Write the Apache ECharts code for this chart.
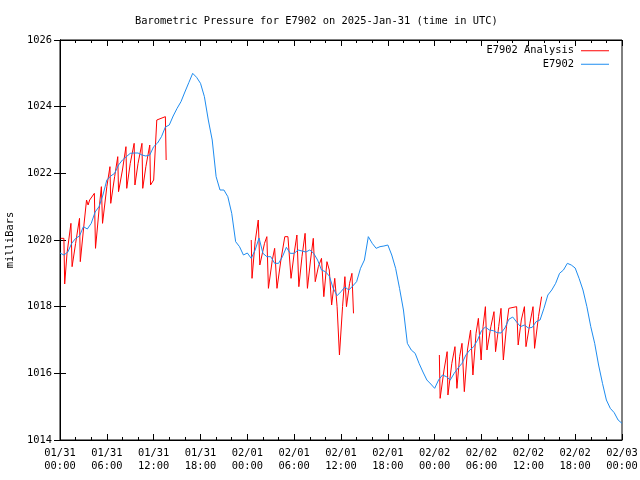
<!DOCTYPE html>
<html>
<head>
<meta charset="utf-8">
<script src="https://cdn.jsdelivr.net/npm/echarts@6/dist/echarts.min.js"></script>
<style>html,body{margin:0;padding:0;background:#fff}#c{width:640px;height:480px}</style>
</head>
<body>
<div id="c"></div>
<script>
const xTickLabels = ["01/31\n00:00","01/31\n06:00","01/31\n12:00","01/31\n18:00","02/01\n00:00","02/01\n06:00","02/01\n12:00","02/01\n18:00","02/02\n00:00","02/02\n06:00","02/02\n12:00","02/02\n18:00","02/03\n00:00"];
const seriesNames = ["E7902 Analysis", "E7902"];
// E7902 observations, every 30 minutes from 01/31 00:00 (hours offset = index*0.5)
const blueValues = [
1019.61,1019.55,1019.64,1019.9,1020.05,1020.12,1020.4,1020.33,1020.5,1020.84,
1021.0,1021.35,1021.8,1021.92,1022.0,1022.25,1022.4,1022.5,1022.6,1022.61,
1022.61,1022.55,1022.52,1022.55,1022.8,1022.91,1023.1,1023.39,1023.45,1023.72,
1023.95,1024.15,1024.44,1024.72,1025.0,1024.88,1024.7,1024.3,1023.6,1023.0,
1021.9,1021.5,1021.5,1021.3,1020.8,1019.95,1019.8,1019.55,1019.61,1019.45,
1019.7,1020.06,1019.6,1019.5,1019.5,1019.3,1019.3,1019.5,1019.78,1019.6,
1019.6,1019.7,1019.67,1019.64,1019.7,1019.6,1019.4,1019.1,1019.05,1018.92,
1018.55,1018.33,1018.45,1018.59,1018.5,1018.62,1018.75,1019.15,1019.4,1020.1,
1019.9,1019.75,1019.8,1019.82,1019.85,1019.55,1019.15,1018.55,1017.9,1016.9,
1016.7,1016.6,1016.3,1016.04,1015.8,1015.68,1015.55,1015.8,1015.95,1015.9,
1015.8,1016.0,1016.16,1016.3,1016.55,1016.7,1016.8,1017.0,1017.28,1017.39,
1017.3,1017.28,1017.22,1017.21,1017.36,1017.62,1017.69,1017.54,1017.4,1017.45,
1017.36,1017.38,1017.55,1017.6,1017.95,1018.35,1018.5,1018.7,1019.0,1019.1,
1019.3,1019.25,1019.16,1018.85,1018.5,1018.0,1017.4,1016.9,1016.25,1015.7,
1015.2,1014.95,1014.82,1014.6,1014.5
];
// Analysis segments: [hours since 01/31 00:00, mb]
const redSeg1 = [[0.1,1020.05],[0.5,1020.05],[0.6,1018.68],[0.9,1019.6],[1.4,1020.5],[1.55,1019.2],[2.0,1019.9],[2.5,1020.65],[2.6,1019.35],[3.0,1020.3],[3.4,1021.2],[3.6,1021.05],[3.8,1021.2],[4.4,1021.4],[4.55,1019.75],[5.0,1020.9],[5.3,1021.6],[5.45,1020.5],[6.0,1021.6],[6.4,1022.2],[6.5,1021.1],[7.0,1021.9],[7.4,1022.5],[7.5,1021.45],[8.0,1022.1],[8.45,1022.8],[8.55,1021.55],[9.0,1022.3],[9.5,1022.9],[9.6,1021.65],[10.0,1022.3],[10.5,1022.9],[10.6,1021.55],[11.0,1022.2],[11.5,1022.85],[11.6,1021.65],[12.0,1021.8],[12.4,1023.6],[12.6,1023.65],[13.5,1023.7],[13.6,1022.4]];
const redSeg2 = [[24.5,1020.0],[24.6,1018.85],[25.0,1019.95],[25.4,1020.6],[25.6,1019.25],[26.2,1019.9],[26.5,1020.1],[26.7,1018.55],[27.2,1019.4],[27.5,1019.75],[27.8,1018.55],[28.3,1019.4],[28.8,1020.1],[29.2,1020.1],[29.6,1018.85],[30.0,1019.6],[30.35,1020.15],[30.6,1018.6],[31.0,1019.5],[31.4,1020.2],[31.7,1018.55],[32.1,1019.4],[32.45,1020.05],[32.7,1018.75],[33.1,1019.2],[33.5,1019.45],[33.8,1018.3],[34.2,1019.35],[34.5,1019.1],[34.8,1018.05],[35.2,1018.85],[35.5,1018.0],[35.8,1016.55],[36.2,1018.0],[36.5,1018.9],[36.7,1018.0],[37.1,1018.7],[37.4,1019.0],[37.6,1017.8]];
const redSeg3 = [[48.6,1016.55],[48.7,1015.25],[49.2,1016.1],[49.6,1016.65],[49.7,1015.35],[50.2,1016.3],[50.6,1016.8],[50.85,1015.55],[51.2,1016.5],[51.5,1016.9],[51.8,1015.45],[52.2,1016.7],[52.6,1017.3],[52.9,1015.95],[53.3,1017.2],[53.6,1017.65],[53.95,1016.4],[54.2,1017.4],[54.5,1018.0],[54.7,1016.7],[55.2,1017.4],[55.6,1017.85],[55.8,1016.65],[56.2,1017.4],[56.5,1017.95],[56.8,1016.4],[57.2,1017.4],[57.5,1017.95],[58.5,1018.0],[58.7,1016.85],[59.1,1017.6],[59.5,1018.0],[59.7,1016.8],[60.2,1017.5],[60.6,1018.0],[60.8,1016.75],[61.3,1017.7],[61.7,1018.3]];

const FONT = 'DejaVu Sans Mono';
const FS = 10.4;
const RED = '#ff0000', BLUE = '#1e8cf0';
const redData = [].concat(redSeg1, [[18, '-']], redSeg2, [[42, '-']], redSeg3);
const blueData = blueValues.map((v, i) => [i * 0.5, v]);

const chart = echarts.init(document.getElementById('c'), null, {renderer: 'canvas'});
const tickCommon = {show: true, inside: true, length: 6, lineStyle: {color: '#000', width: 1}};
const minorCommon = {show: true, splitNumber: 3, length: 3, lineStyle: {color: '#000', width: 1}};
chart.setOption({
  animation: false,
  backgroundColor: '#fff',
  title: {
    text: 'Barometric Pressure for E7902 on 2025-Jan-31 (time in UTC)',
    left: 130, top: 11,
    textStyle: {fontFamily: FONT, fontSize: FS, fontWeight: 'normal', color: '#000'}
  },
  legend: {
    data: [
      {name: seriesNames[0], icon: 'rect', itemStyle: {color: RED, borderWidth: 0}},
      {name: seriesNames[1], icon: 'rect', itemStyle: {color: BLUE, borderWidth: 0}}
    ],
    orient: 'vertical', right: 31, top: 44, align: 'right', padding: 0,
    itemWidth: 28, itemHeight: 1, itemGap: 0,
    textStyle: {fontFamily: FONT, fontSize: FS, color: '#000', lineHeight: 13.5, padding: [0, 2, 0, 0]}
  },
  grid: {left: 60, right: 18, top: 40, bottom: 40, outerBoundsMode: 'none', containLabel: false,
    show: true, borderColor: '#000', borderWidth: 1, backgroundColor: 'transparent'},
  xAxis: [{
    type: 'value', min: 0, max: 72, interval: 6, position: 'bottom',
    axisLine: {show: true, lineStyle: {color: '#000'}},
    axisTick: tickCommon, minorTick: minorCommon,
    splitLine: {show: false},
    axisLabel: {fontFamily: FONT, fontSize: FS, color: '#000', lineHeight: 13, margin: 7,
      formatter: v => xTickLabels[Math.round(v / 6)]}
  }, {
    type: 'value', min: 0, max: 72, interval: 6, position: 'top',
    axisLine: {show: true, lineStyle: {color: '#000'}},
    axisTick: tickCommon, minorTick: minorCommon,
    splitLine: {show: false}, axisLabel: {show: false}
  }],
  yAxis: [{
    type: 'value', min: 1014, max: 1026, interval: 2, position: 'left',
    name: 'milliBars', nameLocation: 'middle', nameGap: 45, nameRotate: 90,
    nameTextStyle: {fontFamily: FONT, fontSize: FS, color: '#000'},
    axisLine: {show: true, lineStyle: {color: '#000'}},
    axisTick: tickCommon, splitLine: {show: false},
    axisLabel: {fontFamily: FONT, fontSize: FS, color: '#000', margin: 8, formatter: v => String(v)}
  }, {
    type: 'value', min: 1014, max: 1026, interval: 2, position: 'right',
    axisLine: {show: true, lineStyle: {color: '#000'}},
    axisTick: tickCommon, splitLine: {show: false}, axisLabel: {show: false}
  }],
  series: [{
    name: seriesNames[0], type: 'line', data: redData, symbol: 'none', showSymbol: false,
    connectNulls: false, lineStyle: {color: RED, width: 1}, itemStyle: {color: RED}
  }, {
    name: seriesNames[1], type: 'line', data: blueData, symbol: 'none', showSymbol: false,
    lineStyle: {color: BLUE, width: 1}, itemStyle: {color: BLUE}
  }]
});
</script>
</body>
</html>
